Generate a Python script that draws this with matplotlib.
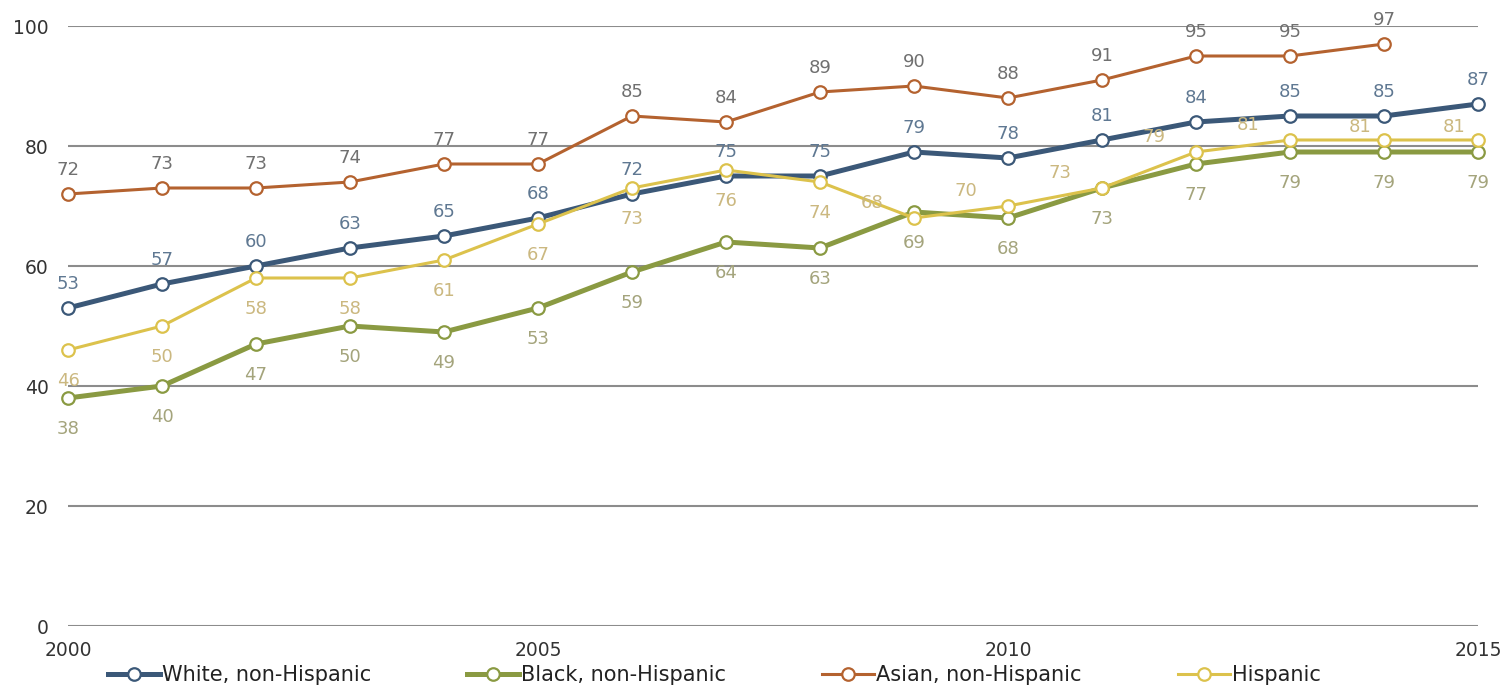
import matplotlib
matplotlib.use("Agg")
import matplotlib.pyplot as plt
import numpy as np

plt.rcParams['font.family'] = ['DejaVu Sans']

years = list(range(2000, 2016))
white = [53, 57, 60, 63, 65, 68, 72, 75, 75, 79, 78, 81, 84, 85, 85, 87]
black = [38, 40, 47, 50, 49, 53, 59, 64, 63, 69, 68, 73, 77, 79, 79, 79]
asian = [72, 73, 73, 74, 77, 77, 85, 84, 89, 90, 88, 91, 95, 95, 97]
hispanic = [46, 50, 58, 58, 61, 67, 73, 76, 74, 68, 70, 73, 79, 81, 81, 81]

names = ["White, non-Hispanic", "Black, non-Hispanic", "Asian, non-Hispanic", "Hispanic"]
xticks = [2000, 2005, 2010, 2015]
yticks = [0, 20, 40, 60, 80, 100]

# styles
line_colors = ["#3b5878", "#8a9a42", "#b4622f", "#dcc24c"]
label_colors = ["#5f7892", "#a4a47c", "#707070", "#cbb880"]
line_widths = [3.6, 3.6, 2.2, 2.2]

fig = plt.figure(figsize=(15.11, 6.85), dpi=100)
ax = fig.add_axes([68 / 1511, 1 - 626 / 685, (1478 - 68) / 1511, 600 / 685])

series = [white, black, asian, hispanic]
for vals, name, lc, lw in zip(series, names, line_colors, line_widths):
    xs = years[:len(vals)]
    ax.plot(xs, vals, color=lc, lw=lw, marker='o', markersize=9,
            markerfacecolor='white', markeredgecolor=lc, markeredgewidth=1.6,
            clip_on=False, label=name, solid_joinstyle='round')

# label placement (offsets in points)
def offsets(idx, i):
    if idx in (0, 2):
        return (0, 17)
    if idx == 1:
        return (0, -22)
    # hispanic
    if i <= 8:
        return (0, -22)
    if i <= 13:
        return (-30, 11)
    return (-17, 9)

for idx, (vals, lcol) in enumerate(zip(series, label_colors)):
    for i, v in enumerate(vals):
        dx, dy = offsets(idx, i)
        ax.annotate(f"{v}", (years[i], v), xytext=(dx, dy), textcoords='offset points',
                    ha='center', va='center', fontsize=13, color=lcol,
                    annotation_clip=False)

ax.set_xlim(2000, 2015)
ax.set_ylim(0, 100)
ax.set_xticks(xticks)
ax.set_xticklabels([str(t) for t in xticks])
ax.set_yticks(yticks)
ax.set_yticklabels([str(t) for t in yticks])
ax.tick_params(axis='both', length=0, labelsize=13.5, colors='#333333')
ax.tick_params(axis='x', pad=11)
ax.tick_params(axis='y', pad=14)
for s in ax.spines.values():
    s.set_visible(False)
ax.grid(axis='y', color='#8c8c8c', lw=1.5)
ax.set_axisbelow(True)

leg = fig.legend(loc='center left', bbox_to_anchor=(108 / 1511, 1 - 675 / 685),
                 ncol=4, frameon=False, fontsize=15, handlelength=2.5,
                 handletextpad=0.1, columnspacing=4.6, borderpad=0, borderaxespad=0)
for t in leg.get_texts():
    t.set_color('#222222')

fig.savefig("out.png", dpi=100)
